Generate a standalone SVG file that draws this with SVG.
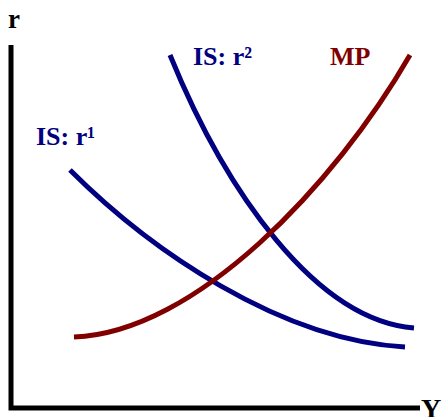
<svg xmlns="http://www.w3.org/2000/svg" width="444" height="417" viewBox="0 0 444 417">
<style>
.lbl{font-family:"Liberation Serif","Times New Roman",serif;font-weight:bold;}
.blue{fill:#000080;}
.red{fill:#800000;}
.curve{fill:none;stroke-width:5;}
</style>
<rect width="444" height="417" fill="#fff"/>
<g id="axes">
<path d="M11,45 V408 H420" fill="none" stroke="#000" stroke-width="5"/>
<text class="lbl" x="8" y="28" font-size="27">r</text>
<text class="lbl" x="421" y="418" font-size="28">Y</text>
</g>
<g id="connectors">
<path id="is1" class="curve" stroke="#000080" d="M70,170 C150,250 280,340 405,347"/>
<path id="is2" class="curve" stroke="#000080" d="M170,55 C225,190 315,320 414,328"/>
<path id="mp" class="curve" stroke="#800000" d="M74,337 C195,333 335,185 410,55"/>
</g>
<g id="label-is1"><text class="lbl blue" x="36" y="145" font-size="26">IS: r¹</text></g>
<g id="label-is2"><text class="lbl blue" x="193" y="65" font-size="26">IS: r²</text></g>
<g id="label-mp"><text class="lbl red" x="330" y="65" font-size="26">MP</text></g>
</svg>
